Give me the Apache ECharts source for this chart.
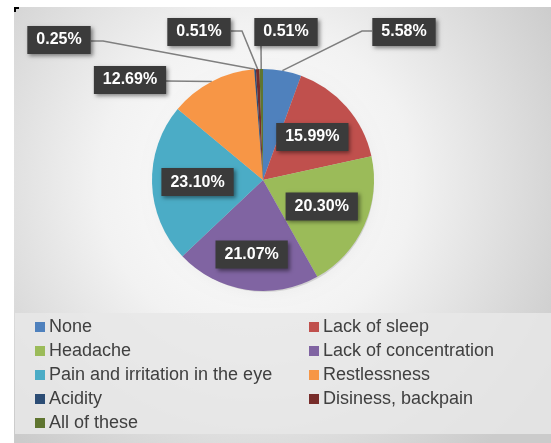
<!DOCTYPE html>
<html>
<head>
<meta charset="utf-8">
<script src="https://cdn.jsdelivr.net/npm/echarts@6/dist/echarts.min.js"></script>
<style>
html,body{margin:0;padding:0;background:#fff;}
#c{width:551px;height:443px;}
</style>
</head>
<body>
<div id="c"></div>
<script>
// ---- data ----
const categories = ['None', 'Lack of sleep', 'Headache', 'Lack of concentration',
  'Pain and irritation in the eye', 'Restlessness', 'Acidity', 'Disiness, backpain', 'All of these'];
const values = [5.58, 15.99, 20.30, 21.07, 23.10, 12.69, 0.25, 0.51, 0.51];
const colors = ['#4F81BD', '#C0504D', '#9BBB59', '#8064A2', '#4BACC6', '#F79646', '#2C4D75', '#772C2A', '#5F7530'];

// ---- layout (not data) ----
const CX = 263, CY = 180, R = 111;
// inside labels: radial fraction; outside labels: box centre, optional elbow, line end at box
const labelSpots = [
  { x: 404, y: 32, elbow: [362, 31], end: [372, 31] },
  { k: 0.59 },
  { k: 0.58 },
  { k: 0.68 },
  { k: 0.59 },
  { x: 130, y: 80, end: [166, 81] },
  { x: 59, y: 40, elbow: [103, 41], end: [91, 41] },
  { x: 199, y: 32, elbow: [242, 31], end: [231, 31] },
  { x: 286, y: 32, end: [261, 46] }
];

const total = values.reduce((a, b) => a + b, 0);
const midAngle = [];
let acc = 0;
values.forEach(v => { midAngle.push((acc + v / 2) / total * Math.PI * 2); acc += v; });

const data = categories.map((name, i) => {
  const inside = !!labelSpots[i].k;
  return {
    name: name,
    value: values[i],
    itemStyle: { color: colors[i] },
    label: { position: inside ? 'inside' : 'outside' },
    labelLine: { show: !inside }
  };
});

const leftNames = categories.filter((_, i) => i % 2 === 0);
const rightNames = categories.filter((_, i) => i % 2 === 1);

const legendCommon = {
  orient: 'vertical',
  top: 318,
  padding: 0,
  itemWidth: 10,
  itemHeight: 10,
  itemGap: 6,
  icon: 'rect',
  selectedMode: false,
  textStyle: { fontFamily: 'Liberation Sans, Arial', fontSize: 18, color: '#404040', lineHeight: 18, padding: [0, 0, 0, -1] }
};

const chart = echarts.init(document.getElementById('c'), null, { renderer: 'canvas' });
chart.setOption({
  animation: false,
  backgroundColor: '#ffffff',
  graphic: [
    {
      type: 'rect', z: -10, silent: true,
      shape: { x: 14, y: 7, width: 537, height: 436 },
      style: {
        fill: new echarts.graphic.RadialGradient(0.45, 0.4, 0.8, [
          { offset: 0, color: '#ffffff' },
          { offset: 0.45, color: '#f2f2f2' },
          { offset: 1, color: '#cbcbcb' }
        ])
      }
    },
    {
      type: 'circle', z: -3, silent: true,
      shape: { cx: CX + 2, cy: CY + 3, r: R - 2 },
      style: { fill: 'rgba(0,0,0,0.12)', shadowBlur: 14, shadowColor: 'rgba(0,0,0,0.35)' }
    },
    {
      type: 'rect', z: -5, silent: true,
      shape: { x: 15, y: 313, width: 536, height: 121 },
      style: { fill: 'rgba(232,232,232,0.85)' }
    },
    {
      type: 'polyline', z: 10, silent: true,
      shape: { points: [[15, 12], [15, 8], [19, 8]] },
      style: { stroke: '#000', lineWidth: 2, fill: null }
    }
  ],
  legend: [
    Object.assign({}, legendCommon, { left: 35, data: leftNames }),
    Object.assign({}, legendCommon, { left: 309, data: rightNames })
  ],
  series: [{
    type: 'pie',
    center: [CX, CY],
    radius: R,
    startAngle: 90,
    clockwise: true,
    avoidLabelOverlap: false,
    data: data,
    itemStyle: { borderWidth: 0 },
    label: {
      show: true,
      formatter: p => p.value.toFixed(2) + '%',
      fontFamily: 'Liberation Sans, Arial',
      fontWeight: 'bold',
      fontSize: 16,
      color: '#ffffff',
      backgroundColor: '#3b3b3b',
      padding: [6, 9, 6, 9],
      shadowColor: 'rgba(0,0,0,0.45)',
      shadowBlur: 4,
      shadowOffsetX: 2,
      shadowOffsetY: 2
    },
    labelLine: {
      show: true,
      lineStyle: { color: '#7f7f7f', width: 1.5 }
    },
    labelLayout: function (p) {
      const i = p.dataIndex;
      const s = labelSpots[i];
      const a = midAngle[i];
      if (s.k) {
        return {
          x: CX + s.k * R * Math.sin(a),
          y: CY - s.k * R * Math.cos(a),
          align: 'center', verticalAlign: 'middle'
        };
      }
      const pts = [[CX + R * Math.sin(a), CY - R * Math.cos(a)]];
      pts.push(s.elbow ? s.elbow : s.end);
      pts.push(s.end);
      return {
        x: s.x, y: s.y, align: 'center', verticalAlign: 'middle',
        labelLinePoints: pts
      };
    }
  }]
});
</script>
</body>
</html>
